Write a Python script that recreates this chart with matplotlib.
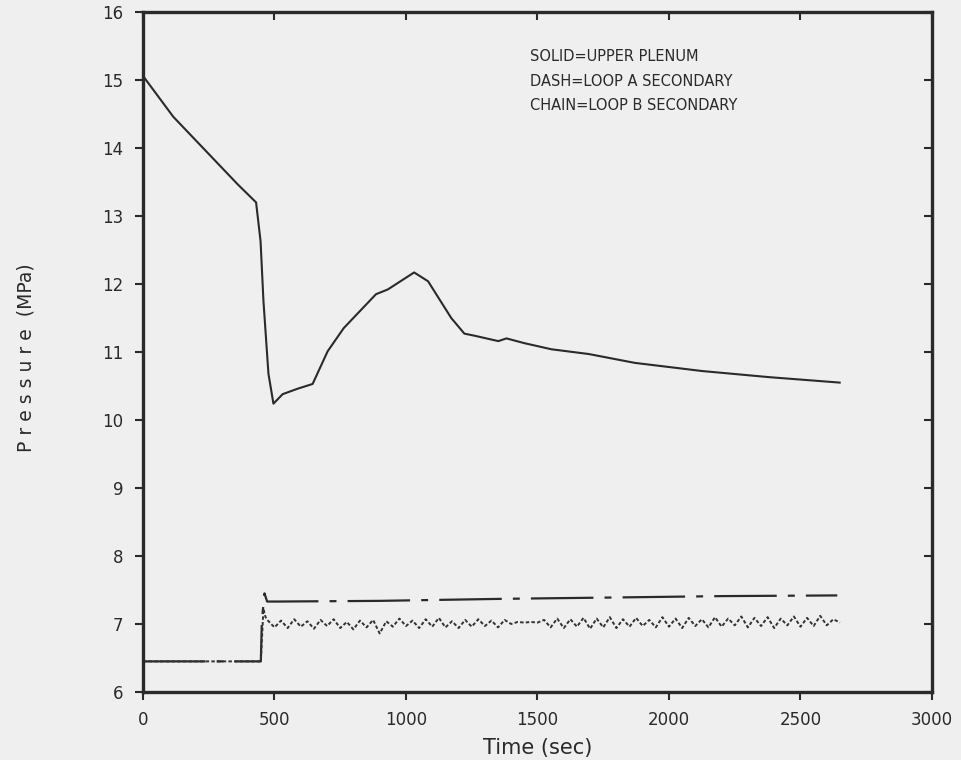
import numpy as np
import matplotlib
matplotlib.use("Agg")
import matplotlib.pyplot as plt

plt.rcParams['font.family'] = ['DejaVu Sans']
plt.rcParams['lines.scale_dashes'] = False

# ---- data ----
t_solid = [0, 115, 359, 430, 447, 458, 477, 496, 531, 588, 645, 702, 763, 817,
           886, 931, 1031, 1084, 1172, 1222, 1260, 1351, 1382, 1450, 1553, 1695,
           1870, 2126, 2381, 2649]
p_solid = [15.06, 14.46, 13.47, 13.20, 12.63, 11.75, 10.68, 10.24, 10.38, 10.46,
           10.53, 11.01, 11.35, 11.57, 11.85, 11.92, 12.17, 12.04, 11.50, 11.27,
           11.24, 11.16, 11.20, 11.13, 11.04, 10.97, 10.84, 10.72, 10.63, 10.55]

t_loopA = [0, 448, 452, 462, 472, 510, 900, 1370, 1800, 2200, 2640]
p_loopA = [6.45, 6.45, 7.05, 7.45, 7.33, 7.33, 7.34, 7.37, 7.39, 7.41, 7.42]

t_loopB_start = [0, 448, 458, 466]
p_loopB_start = [6.45, 6.45, 7.22, 7.10]
t_loopB_osc_first, t_loopB_osc_step = 475, 25
p_loopB_osc = [
    7.05, 6.95, 7.05, 6.94, 7.07, 6.96, 7.04, 6.93, 7.06, 6.97,
    7.07, 6.94, 7.03, 6.92, 7.05, 6.95, 7.06, 6.86, 7.04, 6.96,
    7.08, 6.97, 7.05, 6.94, 7.07, 6.96, 7.09, 6.95, 7.04, 6.94,
    7.06, 6.96, 7.07, 6.97, 7.05, 6.95, 7.06, 7.00, 7.03, 7.02,
    7.03, 7.02, 7.06, 6.95, 7.08, 6.94, 7.07, 6.96, 7.09, 6.93,
    7.08, 6.95, 7.10, 6.94, 7.07, 6.96, 7.09, 6.97, 7.06, 6.95,
    7.10, 6.96, 7.08, 6.94, 7.09, 6.97, 7.07, 6.95, 7.10, 6.96,
    7.08, 6.98, 7.11, 6.95, 7.09, 6.97, 7.10, 6.94, 7.08, 6.98,
    7.11, 6.96, 7.09, 6.97, 7.12, 6.98, 7.07, 7.02,
]

x_ticks = [0, 500, 1000, 1500, 2000, 2500, 3000]
y_ticks = [6, 7, 8, 9, 10, 11, 12, 13, 14, 15, 16]
legend_lines = ["SOLID=UPPER PLENUM", "DASH=LOOP A SECONDARY", "CHAIN=LOOP B SECONDARY"]

# ---- figure ----
bg = '#efefef'
ink = '#2a2a2a'
fig = plt.figure(figsize=(9.61, 7.60), dpi=100, facecolor=bg)
ax = fig.add_axes([0.1488, 0.0895, 0.8210, 0.8947], facecolor=bg)

t_loopB = list(t_loopB_start) + list(t_loopB_osc_first + t_loopB_osc_step * np.arange(len(p_loopB_osc)))
p_loopB = list(p_loopB_start) + list(p_loopB_osc)

ax.plot(t_solid, p_solid, color=ink, lw=1.5, solid_joinstyle='round')
ax.plot(t_loopA, p_loopA, color=ink, lw=1.6, linestyle=(0, (45, 8, 5, 8)))
ax.plot(t_loopB, p_loopB, color='#333333', lw=1.4, linestyle=(0, (2.5, 1.6)))

ax.set_xlim(0, 3000)
ax.set_ylim(6, 16)
ax.set_xticks(x_ticks)
ax.set_yticks(y_ticks)
ax.set_xticklabels([str(v) for v in x_ticks], fontsize=12, color=ink)
ax.set_yticklabels([str(v) for v in y_ticks], fontsize=12, color=ink)

ax.tick_params(axis='both', which='major', direction='out', length=6, width=1.5,
               color=ink, pad=8)

# inward ticks on top and right
sx = ax.secondary_xaxis('top')
sx.set_xticks(x_ticks, labels=[])
sx.tick_params(direction='in', length=6, width=1.5, color=ink)
sx.spines['top'].set_visible(False)
sy = ax.secondary_yaxis('right')
sy.set_yticks(y_ticks, labels=[])
sy.tick_params(direction='in', length=6, width=1.5, color=ink)
sy.spines['right'].set_visible(False)

for s in ax.spines.values():
    s.set_linewidth(2.4)
    s.set_color(ink)

ax.set_xlabel("Time (sec)", fontsize=15, color=ink, labelpad=6)
fig.text(0.027, 0.53, "P r e s s u r e  (MPa)", rotation=90, fontsize=13.5,
         color=ink, ha='center', va='center')

for i, line in enumerate(legend_lines):
    ax.text(1470, 15.34 - 0.36 * i, line, fontsize=10.5, color=ink,
            ha='left', va='center')

fig.savefig("out.png", dpi=100, facecolor=bg)
